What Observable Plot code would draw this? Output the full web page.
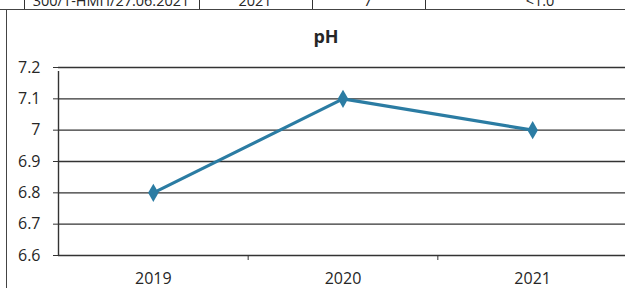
<!DOCTYPE html>
<html><head><meta charset="utf-8">
<script src="https://cdn.jsdelivr.net/npm/d3@7"></script>
<script src="https://cdn.jsdelivr.net/npm/@observablehq/plot@0.6"></script>
<style>
body{margin:0;background:#fff;}
#wrap{position:relative;width:625px;height:288px;overflow:hidden;font-family:"Open Sans",sans-serif;color:#262626;}
#wrap svg{position:absolute;left:0;top:0;}
#tablerow{position:absolute;left:0;top:0;width:625px;height:9px;overflow:hidden;}
#tablerow span{position:absolute;top:-6px;font-size:14.5px;line-height:14.5px;transform:translateX(-50%);white-space:nowrap;}
.vline{position:absolute;top:0;height:9px;border-left:1.5px solid #333;}
#topline{position:absolute;left:0;top:9px;width:625px;border-top:1.5px solid #444;}
#leftline{position:absolute;left:6px;top:9px;height:279px;border-left:1.5px solid #444;}
</style></head><body><div id="wrap"></div>
<script>
const years = ["2019", "2020", "2021"];
const phValues = [6.8, 7.1, 7.0];
const yTicks = [6.6, 6.7, 6.8, 6.9, 7.0, 7.1, 7.2];
const tableCells = ["300/1-НМП/27.06.2021", "2021", "7", "<1.0"];
const chartTitle = "pH";

const data = years.map((y, i) => ({idx: i + 1, year: y, ph: phValues[i]}));
const lineColor = "#2b7ca3";
const gridColor = "#333";

const plot = Plot.plot({
  width: 625, height: 288,
  marginTop: 67, marginBottom: 33, marginLeft: 58, marginRight: 0,
  x: {type: "linear", domain: [0.5, years.length + 0.5], range: [58, 627], label: null},
  y: {domain: [6.6, 7.2], range: [255, 67], label: null},
  style: {background: "transparent", fontFamily: "'Open Sans',sans-serif", fontSize: "16px", color: "#262626", overflow: "visible"},
  marks: [
    Plot.ruleY(yTicks, {stroke: gridColor, strokeWidth: 1.4, x1: 0.5, x2: years.length + 0.5}),
    Plot.ruleX([0.5], {y1: 6.6, y2: 7.2, stroke: gridColor, strokeWidth: 1.4, insetBottom: -4}),
    Plot.axisY(yTicks, {label: null, tickSize: 5, tickPadding: 13, stroke: gridColor, strokeOpacity: 1, fontSize: 16,
      tickFormat: d => (Math.abs(d - 7) < 1e-9 ? "7" : d.toFixed(1))}),
    Plot.axisX(d3.range(1.5, years.length), {label: null, tickSize: 5, stroke: gridColor, strokeOpacity: 1, tickFormat: () => ""}),
    Plot.axisX(d3.range(1, years.length + 1), {label: null, tickSize: 0, tickPadding: 17, fontSize: 16, tickFormat: d => years[d - 1]}),
    Plot.line(data, {x: "idx", y: "ph", stroke: lineColor, strokeWidth: 3.2}),
    Plot.dot(data, {x: "idx", y: "ph", symbol: "diamond", r: 5.5, fill: lineColor}),
    Plot.text([chartTitle], {frameAnchor: "top", dx: -16, dy: -25, lineAnchor: "bottom", fontWeight: "bold", fontSize: 18, fill: "#262626"})
  ]
});

const wrap = document.getElementById("wrap");
wrap.appendChild(plot);

const row = document.createElement("div");
row.id = "tablerow";
const cellCenters = [111, 255, 368, 540];
tableCells.forEach((t, i) => {
  const s = document.createElement("span");
  s.textContent = t;
  s.style.left = cellCenters[i] + "px";
  row.appendChild(s);
});
[24, 199, 312, 425].forEach(x => {
  const v = document.createElement("div");
  v.className = "vline";
  v.style.left = x + "px";
  row.appendChild(v);
});
wrap.appendChild(row);
const tl = document.createElement("div"); tl.id = "topline"; wrap.appendChild(tl);
const ll = document.createElement("div"); ll.id = "leftline"; wrap.appendChild(ll);
</script>
</body></html>
